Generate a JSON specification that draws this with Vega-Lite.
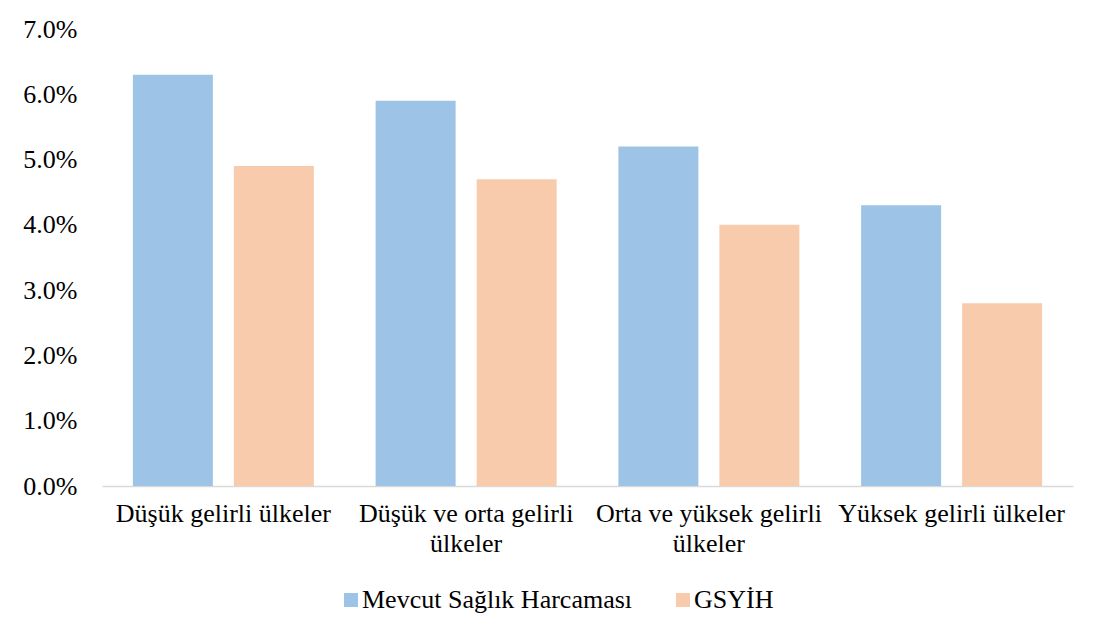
{
  "$schema": "https://vega.github.io/schema/vega-lite/v6.json",
  "width": 971,
  "height": 457,
  "autosize": {"type": "none"},
  "padding": {"left": 102, "top": 29, "right": 34, "bottom": 155},
  "background": "white",
  "config": {
    "view": {"stroke": null},
    "font": "Liberation Serif",
    "axis": {"labelFont": "Liberation Serif", "labelColor": "#000000", "labelFontSize": 26, "grid": false, "ticks": false, "title": null, "labelLimit": 0},
    "legend": {"labelFont": "Liberation Serif", "labelColor": "#000000", "labelFontSize": 26, "labelLimit": 0}
  },
  "data": {
    "values": [
      {"group": "Düşük gelirli ülkeler", "series": "Mevcut Sağlık Harcaması", "value": 0.063},
      {"group": "Düşük gelirli ülkeler", "series": "GSYİH", "value": 0.049},
      {"group": "Düşük ve orta gelirli|ülkeler", "series": "Mevcut Sağlık Harcaması", "value": 0.059},
      {"group": "Düşük ve orta gelirli|ülkeler", "series": "GSYİH", "value": 0.047},
      {"group": "Orta ve yüksek gelirli|ülkeler", "series": "Mevcut Sağlık Harcaması", "value": 0.052},
      {"group": "Orta ve yüksek gelirli|ülkeler", "series": "GSYİH", "value": 0.040},
      {"group": "Yüksek gelirli ülkeler", "series": "Mevcut Sağlık Harcaması", "value": 0.043},
      {"group": "Yüksek gelirli ülkeler", "series": "GSYİH", "value": 0.028}
    ]
  },
  "mark": {"type": "bar"},
  "encoding": {
    "x": {
      "field": "group",
      "type": "nominal",
      "sort": null,
      "scale": {"paddingInner": 0.2544, "paddingOuter": 0.1272},
      "axis": {
        "labelAngle": 0,
        "labelPadding": 14,
        "labelLineHeight": 30,
        "labelBaseline": "top",
        "labelExpr": "split(datum.label, '|')",
        "domainColor": "#d9d9d9",
        "domainWidth": 1.5,
        "labelLimit": 0
      }
    },
    "xOffset": {
      "field": "series",
      "type": "nominal",
      "scale": {"domain": ["Mevcut Sağlık Harcaması", "GSYİH"], "paddingInner": 0.208, "paddingOuter": 0}
    },
    "y": {
      "field": "value",
      "type": "quantitative",
      "scale": {"domain": [0, 0.07], "nice": false},
      "axis": {
        "values": [0, 0.01, 0.02, 0.03, 0.04, 0.05, 0.06, 0.07],
        "format": ".1%",
        "domain": false,
        "labelPadding": 25
      }
    },
    "color": {
      "field": "series",
      "type": "nominal",
      "scale": {"domain": ["Mevcut Sağlık Harcaması", "GSYİH"], "range": ["#9DC3E6", "#F8CBAD"]},
      "legend": {
        "title": null,
        "orient": "none",
        "direction": "horizontal",
        "legendX": 236,
        "legendY": 558,
        "padding": 0,
        "symbolType": "square",
        "symbolSize": 196,
        "symbolStrokeWidth": 0,
        "symbolOpacity": 1,
        "labelOffset": -2,
        "columnPadding": 37,
        "labelLimit": 0
      }
    }
  }
}
